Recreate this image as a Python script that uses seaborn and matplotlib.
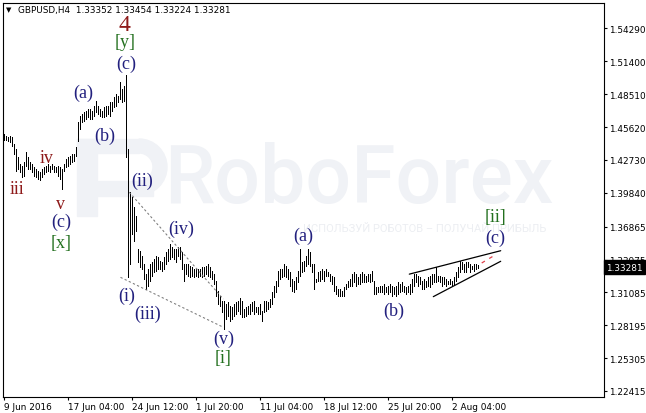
import matplotlib
matplotlib.use("Agg")
import matplotlib.pyplot as plt
import matplotlib.transforms as mtransforms
from matplotlib.patches import Rectangle, Wedge
import seaborn as sns
import pandas as pd

# ---- H4 price bars (bar index 0 = 9 Jun 2016 00:00) ----
symbol = "GBPUSD,H4"
last_open = 1.33352
last_close = 1.33281

bar_high = [
    1.4501, 1.4486, 1.4472, 1.4486, 1.4472, 1.4413, 1.4369, 1.4296, 1.4237, 1.4222,
    1.4252, 1.4340, 1.4296, 1.4252, 1.4237, 1.4208, 1.4193, 1.4178, 1.4164, 1.4193,
    1.4208, 1.4222, 1.4237, 1.4222, 1.4237, 1.4222, 1.4208, 1.4222, 1.4208, 1.4193,
    1.4237, 1.4281, 1.4296, 1.4310, 1.4325, 1.4325, 1.4384, 1.4604, 1.4662, 1.4677,
    1.4692, 1.4706, 1.4721, 1.4721, 1.4706, 1.4750, 1.4794, 1.4750, 1.4721, 1.4706,
    1.4736, 1.4750, 1.4750, 1.4780, 1.4780, 1.4824, 1.4853, 1.4838, 1.4956, 1.4897,
    1.4926, 1.5020, 1.4369,
    1.3993, 1.3944, 1.3856, 1.3782, 1.3489, 1.3474, 1.3430,
    1.3357, 1.3269, 1.3313, 1.3357, 1.3372, 1.3401, 1.3430, 1.3416, 1.3386, 1.3372,
    1.3416, 1.3460, 1.3489, 1.3533, 1.3504, 1.3489, 1.3489, 1.3504, 1.3504, 1.3460,
    1.3357, 1.3357, 1.3357, 1.3342, 1.3328, 1.3313, 1.3313, 1.3313, 1.3313, 1.3328,
    1.3328, 1.3342, 1.3357, 1.3328, 1.3298, 1.3269, 1.3210, 1.3122, 1.3078, 1.3034,
    1.3034, 1.3005, 1.3020, 1.2990, 1.2976, 1.3005, 1.3020, 1.3034,
    1.3055, 1.3034,
    1.2961, 1.2976, 1.2990, 1.3005, 1.3020, 1.3034, 1.2976, 1.2976, 1.3005, 1.2946,
    1.3034, 1.3034, 1.3020, 1.3049, 1.3108, 1.3166, 1.3210, 1.3298, 1.3313, 1.3313,
    1.3357, 1.3342, 1.3313, 1.3284, 1.3225, 1.3210, 1.3240, 1.3298, 1.3489, 1.3372,
    1.3386, 1.3430, 1.3489, 1.3460, 1.3357, 1.3357, 1.3225, 1.3284, 1.3298, 1.3313,
    1.3298, 1.3313, 1.3284, 1.3269, 1.3254, 1.3240, 1.3166, 1.3137, 1.3137, 1.3122,
    1.3152, 1.3181, 1.3210, 1.3225, 1.3269, 1.3284, 1.3269, 1.3240,
    1.3269, 1.3284,
    1.3269, 1.3254, 1.3269, 1.3269, 1.3298, 1.3210, 1.3152, 1.3152, 1.3166, 1.3166,
    1.3181, 1.3152, 1.3166, 1.3181, 1.3166, 1.3152, 1.3166, 1.3196, 1.3181, 1.3196,
    1.3166, 1.3152, 1.3166, 1.3181, 1.3225, 1.3269, 1.3269, 1.3254, 1.3240, 1.3210,
    1.3225, 1.3210, 1.3240, 1.3254, 1.3269, 1.3269, 1.3328, 1.3254, 1.3254, 1.3240,
    1.3240, 1.3225, 1.3210, 1.3225, 1.3210, 1.3240, 1.3284, 1.3328, 1.3386, 1.3372,
    1.3357, 1.3372, 1.3372, 1.3357, 1.3342, 1.3357, 1.3357, 1.33454,
]

bar_low = [
    1.4451, 1.4451, 1.4442, 1.4428, 1.4398, 1.4325, 1.4178, 1.4193, 1.4164, 1.4120,
    1.4134, 1.4222, 1.4193, 1.4193, 1.4164, 1.4134, 1.4120, 1.4105, 1.4096, 1.4120,
    1.4149, 1.4164, 1.4178, 1.4164, 1.4193, 1.4164, 1.4164, 1.4134, 1.4105, 1.4017,
    1.4178, 1.4208, 1.4222, 1.4237, 1.4252, 1.4266, 1.4310, 1.4442, 1.4545, 1.4604,
    1.4618, 1.4633, 1.4648, 1.4633, 1.4633, 1.4662, 1.4692, 1.4677, 1.4662, 1.4648,
    1.4648, 1.4662, 1.4677, 1.4662, 1.4706, 1.4736, 1.4750, 1.4780, 1.4809, 1.4780,
    1.4794, 1.4299, 1.3243,
    1.3357, 1.3621, 1.3562, 1.3650, 1.3372, 1.3328, 1.3313,
    1.3225, 1.3137, 1.3166, 1.3210, 1.3254, 1.3284, 1.3298, 1.3313, 1.3313, 1.3298,
    1.3313, 1.3357, 1.3386, 1.3401, 1.3416, 1.3401, 1.3372, 1.3430, 1.3401, 1.3313,
    1.3210, 1.3269, 1.3254, 1.3240, 1.3254, 1.3240, 1.3254, 1.3240, 1.3254, 1.3240,
    1.3254, 1.3269, 1.3254, 1.3240, 1.3225, 1.3181, 1.3078, 1.3005, 1.2990, 1.2932,
    1.2785, 1.2873, 1.2902, 1.2858, 1.2873, 1.2902, 1.2917, 1.2946,
    1.2917, 1.2888,
    1.2888, 1.2902, 1.2917, 1.2917, 1.2946, 1.2917, 1.2932, 1.2917, 1.2917, 1.2858,
    1.2932, 1.2946, 1.2961, 1.2976, 1.3005, 1.3064, 1.3108, 1.3166, 1.3225, 1.3240,
    1.3254, 1.3240, 1.3225, 1.3166, 1.3122, 1.3108, 1.3137, 1.3196, 1.3254, 1.3284,
    1.3298, 1.3342, 1.3357, 1.3342, 1.3284, 1.3137, 1.3196, 1.3210, 1.3210, 1.3225,
    1.3210, 1.3254, 1.3254, 1.3210, 1.3181, 1.3122, 1.3093, 1.3078, 1.3078, 1.3078,
    1.3078, 1.3137, 1.3152, 1.3166, 1.3166, 1.3196, 1.3166, 1.3181,
    1.3181, 1.3196,
    1.3196, 1.3196, 1.3210, 1.3196, 1.3210, 1.3093, 1.3093, 1.3108, 1.3108, 1.3108,
    1.3093, 1.3108, 1.3093, 1.3108, 1.3078, 1.3093, 1.3078, 1.3093, 1.3108, 1.3122,
    1.3108, 1.3093, 1.3108, 1.3093, 1.3108, 1.3166, 1.3196, 1.3166, 1.3181, 1.3137,
    1.3137, 1.3152, 1.3166, 1.3152, 1.3181, 1.3196, 1.3196, 1.3210, 1.3196, 1.3166,
    1.3181, 1.3166, 1.3181, 1.3181, 1.3166, 1.3181, 1.3210, 1.3240, 1.3284, 1.3313,
    1.3284, 1.3284, 1.3328, 1.3284, 1.3313, 1.3298, 1.3313, 1.33224,
]

# ---- axis ticks ----
date_ticks = [0, 32, 64, 96, 128, 160, 192, 224]
date_labels = ["9 Jun 2016", "17 Jun 04:00", "24 Jun 12:00", "1 Jul 20:00",
               "11 Jul 04:00", "18 Jul 12:00", "25 Jul 20:00", "2 Aug 04:00"]
price_ticks = [1.54290, 1.51400, 1.48510, 1.45620, 1.42730, 1.39840,
               1.36865, 1.33975, 1.31085, 1.28195, 1.25305, 1.22415]

# ---- wave count labels: text, bar index, price, degree ----
wave_text = ["4", "[y]", "(c)", "(a)", "(b)", "iii", "iv", "v", "(c)", "[x]",
             "(ii)", "(iv)", "(i)", "(iii)", "(v)", "[i]", "(a)", "(b)", "[ii]", "(c)"]
wave_idx = [60.3, 60.8, 61.3, 40.0, 50.8, 6.5, 21.8, 28.5, 28.8, 28.8,
            69.5, 88.8, 61.6, 72.0, 109.9, 109.8, 149.9, 194.9, 245.8, 245.8]
wave_price = [1.5464, 1.5319, 1.5126, 1.4866, 1.4493, 1.4018, 1.4299, 1.3886, 1.3732, 1.3543,
              1.4097, 1.3675, 1.3085, 1.2927, 1.2707, 1.2540, 1.3613, 1.2954, 1.3776, 1.3594]
wave_degree = ["primary", "intermediate", "minor", "minor", "minor", "minute", "minute",
               "minute", "minor", "intermediate", "minor", "minor", "minor", "minor",
               "minor", "intermediate", "minor", "minor", "intermediate", "minor"]
degree_color = {"primary": "#8e1a1a", "intermediate": "#23701f",
                "minor": "#22207e", "minute": "#8e1a1a"}

# ---- trend lines: (bar index pair, price pair) ----
impulse_upper = ([62.9, 109.9], [1.3989, 1.3050])
impulse_lower = ([58.5, 109.9], [1.3241, 1.2802])
wedge_upper = ([202.9, 248.6], [1.3269, 1.3475])
wedge_lower = ([214.9, 248.6], [1.3071, 1.3382])
wedge_target = ([239.1, 246.6], [1.3367, 1.3446])

W, H = 646, 414
sns.set_theme(style="white")
plt.rcParams["font.family"] = ["DejaVu Sans"]

fig = plt.figure(figsize=(W / 100, H / 100), dpi=100)
fig.patch.set_facecolor("white")
ax = fig.add_axes([2.5 / W, 16.5 / H, 601.5 / W, 394 / H])
ax.patch.set_alpha(0)
ax.set_zorder(2)

# watermark behind the chart
wm_color = "#f0f2f6"
fig.text(359 / W, 1 - 181 / H, "RoboForex", fontsize=58, color=wm_color,
         family="Roboto", fontweight="medium", ha="center", va="center", zorder=0)
fig.text(425 / W, 1 - 229 / H, "ИСПОЛЬЗУЙ РОБОТОВ – ПОЛУЧАЙ ПРИБЫЛЬ", fontsize=8,
         color="#eceef2", family="Roboto", ha="center", va="center", zorder=0)
logo_tr = mtransforms.Affine2D().scale(1 / W, -1 / H).translate(0, 1) + fig.transFigure
for (x0, y0, w, h) in [(77, 140, 20, 77), (77, 140, 62, 14), (98, 182, 55, 15)]:
    fig.patches.append(Rectangle((x0, y0), w, h, transform=logo_tr, color=wm_color, zorder=0))
fig.patches.append(Wedge((139, 168), 28, -90, 90, width=14, transform=logo_tr,
                         color=wm_color, zorder=0))

# price bars
idx = list(range(len(bar_high)))
ax.vlines(idx, bar_low, bar_high, colors="black", linewidth=0.72, antialiased=False, zorder=3)

# trend lines
lines = pd.DataFrame({
    "bar": impulse_upper[0] + impulse_lower[0] + wedge_upper[0] + wedge_lower[0] + wedge_target[0],
    "price": impulse_upper[1] + impulse_lower[1] + wedge_upper[1] + wedge_lower[1] + wedge_target[1],
    "line": ["iu"] * 2 + ["il"] * 2 + ["wu"] * 2 + ["wl"] * 2 + ["wt"] * 2,
})
line_style = {"iu": ("#7a7a7a", (0, (2.2, 2.2)), 0.75), "il": ("#7a7a7a", (0, (2.2, 2.2)), 0.75),
              "wu": ("black", "-", 0.9), "wl": ("black", "-", 0.9),
              "wt": ("#e0404a", (0, (3, 4)), 0.9)}
for name, grp in lines.groupby("line", sort=False):
    c, ls, lw = line_style[name]
    sns.lineplot(data=grp, x="bar", y="price", ax=ax, color=c, linestyle=ls,
                 linewidth=lw, zorder=4, legend=False)

# wave labels
for t, xi, yp, d in zip(wave_text, wave_idx, wave_price, wave_degree):
    size = 17 if d == "primary" else 13
    ax.text(xi, yp, t, color=degree_color[d], fontsize=size, family="Liberation Serif",
            ha="center", va="center", zorder=5)

ax.set_xlim(-0.5, 300.25)
ax.set_ylim(1.21931, 1.56576)
ax.set_xlabel("")
ax.set_ylabel("")

ax.yaxis.tick_right()
ax.set_yticks(price_ticks)
ax.set_yticklabels([f"{p:.5f}" for p in price_ticks])
ax.set_xticks(date_ticks)
ax.set_xticklabels(date_labels, ha="left")
ax.tick_params(axis="y", right=True, left=False, length=2.5, width=0.8, pad=1.5,
               labelsize=6.4, colors="black", direction="out")
ax.tick_params(axis="x", bottom=True, length=2.5, width=0.8, pad=1.2,
               labelsize=6.4, colors="black", direction="out")
for lbl in ax.get_xticklabels():
    lbl.set_horizontalalignment("left")
for s in ax.spines.values():
    s.set_color("black")
    s.set_linewidth(0.8)
ax.grid(False)

# current price marker on the price scale
blend = mtransforms.blended_transform_factory(ax.transAxes, ax.transData)
ax.text(1.0035, last_close, f"{last_close:.5f}", transform=blend, color="white",
        fontsize=6.4, ha="left", va="center", zorder=10, clip_on=False,
        bbox=dict(boxstyle="square,pad=0.28", fc="black", ec="black"))

# header
fig.text(6 / W, 1 - 10 / H, "▼", fontsize=5, color="black", ha="left", va="center")
fig.text(18 / W, 1 - 10 / H,
         f"{symbol}  {last_open:.5f} {bar_high[-1]:.5f} {bar_low[-1]:.5f} {last_close:.5f}",
         fontsize=6.4, color="black", ha="left", va="center")

fig.savefig("out.png", dpi=100)
